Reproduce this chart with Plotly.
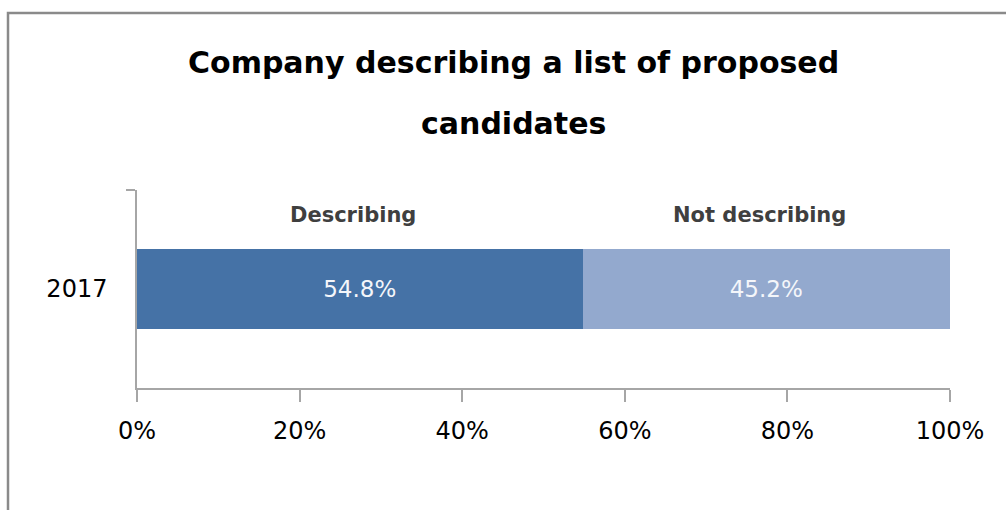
import plotly.graph_objects as go

# Share of companies describing a list of proposed candidates
years = ["2017"]
series_names = ["Describing", "Not describing"]
describing = [0.548]
not_describing = [0.452]
x_tick_vals = [0, 0.2, 0.4, 0.6, 0.8, 1.0]
x_tick_text = ["0%", "20%", "40%", "60%", "80%", "100%"]
title_lines = ["Company describing a list of proposed", "candidates"]

colors = ["#4572A6", "#93A9CE"]
font_family = "DejaVu Sans"
axis_color = "#A6A6A6"

fig = go.Figure()
for name, vals, col in zip(series_names, [describing, not_describing], colors):
    fig.add_trace(go.Bar(
        x=vals, y=years, orientation="h", name=name,
        marker=dict(color=col, line=dict(width=0)),
        texttemplate="%{x:.1%}", textposition="inside",
        insidetextanchor="middle",
        textfont=dict(family=font_family, size=23, color="#F4F6FA"),
        showlegend=False,
    ))

# Series names above the middle of each segment
left = 0.0
for name, vals in zip(series_names, [describing, not_describing]):
    fig.add_annotation(
        x=left + vals[0] / 2, xref="x", y=0.578, yref="paper",
        yanchor="middle", xanchor="center", xshift=-7,
        text="<b>" + name + "</b>", showarrow=False,
        font=dict(family=font_family, size=21, color="#3F3F3F"),
    )
    left += vals[0]

# Two-line title with wide line spacing
for line, ypos in zip(title_lines, [0.878, 0.757]):
    fig.add_annotation(
        x=0.51, xref="paper", y=ypos, yref="paper",
        yanchor="middle", xanchor="center",
        text="<b>" + line + "</b>", showarrow=False,
        font=dict(family=font_family, size=30, color="#000000"),
    )

# Outer chart frame (right and bottom edges fall outside the page)
fig.add_shape(type="rect", xref="paper", yref="paper",
              x0=8 / 1006, x1=1.003, y0=-0.005, y1=(510 - 13) / 510,
              line=dict(color="#8A8A8A", width=2.5), fillcolor="rgba(0,0,0,0)")

fig.update_layout(
    width=1006, height=510, autosize=False,
    margin=dict(l=0, r=0, t=0, b=0, autoexpand=False),
    paper_bgcolor="white", plot_bgcolor="white",
    barmode="stack", bargap=0.6,
    xaxis=dict(
        domain=[137 / 1006, 950 / 1006], range=[0, 1], automargin=False,
        tickvals=x_tick_vals, ticktext=x_tick_text,
        showgrid=False, zeroline=False,
        showline=True, linecolor=axis_color, linewidth=1.5,
        ticks="outside", ticklen=12, tickcolor=axis_color, tickwidth=1.5,
        ticklabelstandoff=8,
        tickfont=dict(family=font_family, size=24, color="#000000"),
        fixedrange=True,
    ),
    yaxis=dict(
        domain=[122 / 510, 320 / 510], type="category", automargin=False,
        showgrid=False, zeroline=False,
        showline=True, linecolor=axis_color, linewidth=1.5,
        ticks="outside", ticklen=9, tickcolor=axis_color, tickwidth=1.5,
        tickson="boundaries", ticklabelstandoff=23,
        tickfont=dict(family=font_family, size=24, color="#000000"),
        fixedrange=True,
    ),
)

fig.write_html("out.html", config={"displayModeBar": False})
